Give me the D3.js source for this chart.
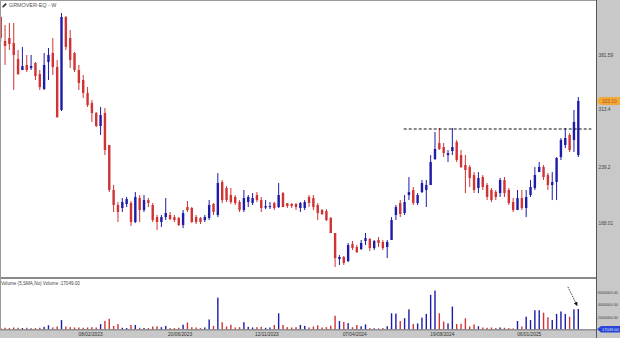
<!DOCTYPE html>
<html>
<head>
<meta charset="utf-8">
<script src="https://d3js.org/d3.v7.min.js"></script>
<style>
  body { margin: 0; background: #fff; }
  svg { display: block; font-family: "Liberation Sans", Arial, sans-serif; }
</style>
</head>
<body>
<script>
const w = 620;
const h = 338;
const plotRight = 596;
const priceBottom = 277;
const volBottom = 329.3;
const upColor = "#1c1ca8";
const downColor = "#d03333";

// weekly bars, GRMOVER-EQ
const open = [429.9, 399.4, 403.2, 396.8, 376.5, 362.5, 368.9, 365.1, 371.4, 357.4,
  338.4, 372.7, 384.1, 366.3, 311.7, 429.9, 403.2, 384.1, 362.5, 349.8,
  333.3, 320.6, 307.8, 291.3, 307.8, 267.2, 210.0, 190.9, 187.1, 192.2,
  193.4, 169.3, 199.8, 184.5, 197.2, 190.9, 175.6, 169.3, 175.6, 178.2,
  175.6, 174.4, 165.5, 188.3, 187.1, 175.6, 174.4, 171.8, 174.4, 192.2,
  178.2, 220.1, 212.5, 203.6, 201.1, 194.7, 184.5, 194.7, 193.4, 203.6,
  197.2, 187.7, 188.3, 193.4, 188.3, 206.1, 193.4, 192.2, 192.2, 187.1,
  187.1, 201.1, 199.8, 190.9, 184.5, 183.3, 174.4, 155.3, 122.2, 124.8,
  119.7, 141.3, 137.5, 135.0, 145.1, 147.7, 136.2, 146.4, 143.9, 137.5,
  146.4, 178.2, 193.4, 180.7, 203.6, 210.0, 193.4, 207.4, 210.0, 216.3,
  249.4, 269.7, 264.6, 254.4, 259.5, 271.0, 254.4, 241.7, 239.2, 229.0,
  212.5, 226.5, 216.3, 210.0, 207.4, 206.1, 222.7, 210.0, 194.7, 184.5,
  199.8, 187.1, 203.6, 212.5, 232.8, 239.2, 229.0, 216.3, 220.1, 251.9,
  267.2, 279.9, 273.5, 254.4];
const high = [431.2, 419.7, 422.3, 422.3, 387.9, 391.8, 381.6, 381.6, 372.7, 362.5,
  384.1, 390.5, 403.2, 375.2, 435.0, 431.2, 413.4, 385.4, 368.9, 356.2,
  340.9, 324.4, 309.1, 315.5, 314.2, 267.2, 216.3, 194.7, 199.8, 201.1,
  196.0, 207.4, 203.6, 203.6, 199.8, 193.4, 178.2, 178.2, 199.8, 182.0,
  178.2, 175.6, 184.5, 196.0, 188.3, 178.2, 175.6, 178.2, 197.2, 193.4,
  231.6, 222.7, 215.0, 212.5, 203.6, 197.2, 210.0, 203.6, 206.1, 207.4,
  201.1, 197.2, 194.7, 194.7, 218.9, 207.4, 193.4, 193.4, 193.4, 194.7,
  197.2, 203.6, 203.6, 193.4, 185.8, 185.8, 175.6, 155.3, 127.3, 126.1,
  142.6, 145.1, 140.0, 146.4, 155.3, 148.9, 146.4, 150.2, 146.4, 146.4,
  175.6, 190.9, 197.2, 203.6, 226.5, 213.8, 206.1, 222.7, 222.7, 254.4,
  283.7, 288.8, 269.7, 260.8, 288.8, 273.5, 260.8, 254.4, 241.7, 232.8,
  232.8, 229.0, 218.9, 212.5, 210.0, 225.2, 226.5, 212.5, 199.8, 210.0,
  210.0, 210.0, 222.7, 239.2, 245.5, 241.7, 231.6, 232.8, 251.9, 276.1,
  288.8, 282.4, 311.7, 328.2];
const low = [398.1, 368.9, 387.9, 337.1, 356.2, 362.5, 360.0, 362.5, 349.8, 337.1,
  337.1, 349.8, 356.2, 301.5, 310.4, 387.9, 365.1, 360.0, 337.1, 326.9,
  315.5, 296.4, 290.0, 279.9, 254.4, 207.4, 182.0, 169.3, 182.0, 188.3,
  164.2, 168.0, 169.3, 182.0, 188.3, 169.3, 159.1, 162.9, 171.8, 171.8,
  169.3, 164.2, 161.6, 182.0, 168.0, 166.7, 166.7, 169.3, 171.8, 178.2,
  175.6, 193.4, 194.7, 192.2, 190.9, 182.0, 182.0, 188.3, 190.9, 194.7,
  182.0, 185.8, 185.8, 184.5, 187.1, 188.3, 187.1, 187.1, 184.5, 182.0,
  184.5, 188.3, 184.5, 171.8, 178.2, 170.5, 155.3, 112.1, 114.6, 114.6,
  118.4, 133.7, 129.9, 133.7, 140.0, 132.4, 133.7, 137.5, 133.7, 123.5,
  146.4, 171.8, 175.6, 178.2, 197.2, 190.9, 190.9, 206.1, 188.3, 216.3,
  248.1, 260.8, 251.9, 245.5, 254.4, 245.5, 237.9, 206.1, 213.8, 206.1,
  206.1, 210.0, 197.2, 194.7, 197.2, 201.1, 201.1, 190.9, 182.0, 184.5,
  184.5, 175.6, 201.1, 210.0, 232.8, 222.7, 210.0, 197.2, 197.2, 248.1,
  263.3, 258.3, 258.3, 251.9];
const close = [403.2, 393.0, 395.6, 381.6, 357.4, 367.6, 362.5, 367.6, 354.9, 340.9,
  368.9, 381.6, 366.3, 302.8, 429.9, 391.8, 375.2, 362.5, 346.0, 333.3,
  318.0, 307.8, 291.3, 305.3, 260.8, 210.0, 190.9, 182.0, 194.7, 198.5,
  169.3, 201.1, 184.5, 197.2, 193.4, 171.8, 169.3, 175.6, 180.7, 173.1,
  171.8, 165.5, 180.7, 184.5, 169.3, 169.3, 169.3, 175.6, 190.9, 182.0,
  218.9, 197.2, 197.2, 194.7, 193.4, 184.5, 199.8, 201.1, 199.8, 197.2,
  187.1, 189.6, 189.6, 187.1, 203.6, 188.3, 189.6, 189.6, 188.3, 193.4,
  194.7, 193.4, 188.3, 180.7, 179.4, 171.8, 155.3, 123.5, 124.8, 117.2,
  140.0, 136.2, 131.1, 142.6, 148.9, 136.2, 145.1, 142.6, 136.2, 143.9,
  171.8, 188.3, 179.4, 194.7, 207.4, 193.4, 203.6, 218.9, 216.3, 245.5,
  262.1, 262.1, 257.0, 257.0, 264.6, 248.1, 239.2, 235.4, 225.2, 210.0,
  225.2, 213.8, 201.1, 197.2, 201.1, 222.7, 206.1, 193.4, 184.5, 199.8,
  187.1, 201.1, 213.8, 229.0, 239.2, 226.5, 216.3, 220.1, 250.6, 273.5,
  276.1, 260.8, 296.4, 323.1];
// volume in millions of shares
const volumeMn = [0.2, 0.25, 0.2, 0.3, 0.25, 0.2, 0.25, 0.15, 0.2, 0.25,
  0.4, 0.65, 0.3, 0.45, 1.5, 0.45, 0.35, 0.3, 0.3, 0.25,
  0.3, 0.35, 0.3, 0.85, 1.35, 1.7, 0.55, 0.85, 0.25, 0.2,
  0.7, 0.7, 0.25, 0.2, 0.2, 0.45, 0.5, 0.35, 0.55, 0.2,
  0.2, 0.25, 0.75, 1.1, 0.35, 0.3, 0.2, 0.3, 1.6, 0.55,
  5.15, 1.15, 0.45, 0.75, 0.3, 0.35, 1.15, 0.4, 0.3, 0.35,
  0.4, 0.25, 0.3, 0.7, 2.6, 0.7, 0.35, 0.3, 0.35, 0.7,
  0.55, 0.3, 0.45, 0.65, 0.3, 0.35, 0.6, 2.2, 1.35, 1.2,
  1.0, 0.35, 0.7, 0.5, 0.8, 0.2, 0.15, 0.15, 0.2, 0.5,
  2.6, 2.55, 1.35, 1.8, 3.25, 0.85, 0.95, 1.9, 2.5, 5.6,
  6.3, 2.6, 1.25, 0.95, 3.7, 0.85, 0.9, 1.8, 0.45, 0.8,
  0.5, 0.3, 0.25, 0.3, 0.2, 0.3, 0.25, 0.2, 0.15, 1.35,
  0.45, 2.05, 1.5, 3.1, 3.1, 2.7, 1.95, 1.5, 2.5, 2.9,
  2.5, 2.05, 3.25, 3.3];

const priceTicks = [381.59, 313.4, 239.2, 168.01];
const lastPrice = 323.10;
const volumeTicks = [2000000, 4000000, 6000000];
const lastVolume = 17049;
const dateLabels = ["08/02/2023", "20/06/2023", "12/11/2023", "07/04/2024", "19/08/2024", "06/01/2025"];
const dateBars = [20.7, 41.3, 61.3, 81.5, 101.7, 121.7];
const resistance = { price: 287.5, fromBar: 92.8, toBar: 136 };
const arrowFrom = { bar: 130.6, vol: 6900000 };
const arrowTo = { bar: 132.7, vol: 3900000 };

const bars = open.map((o, i) => ({
  i: i, o: o, h: high[i], l: low[i], c: close[i], v: volumeMn[i] * 1e6
}));

const xScale = d3.scaleLinear().domain([0, bars.length - 1]).range([0.7, 578.3]);
const yScale = d3.scaleLinear().domain([99.4, 451.5]).range([priceBottom, 0]);
const vScale = d3.scaleLinear().domain([0, 6000000]).range([volBottom, 292.4]);

const svg = d3.select("body").append("svg")
  .attr("width", w)
  .attr("height", h);

svg.append("rect").attr("width", w).attr("height", h).attr("fill", "#fff");

const colorOf = d => d.c >= d.o ? upColor : downColor;

// candles
const candles = svg.append("g").selectAll("g")
  .data(bars)
  .enter()
  .append("g");

candles.append("line")
  .attr("x1", d => xScale(d.i))
  .attr("x2", d => xScale(d.i))
  .attr("y1", d => yScale(d.h))
  .attr("y2", d => yScale(d.l))
  .attr("stroke", colorOf)
  .attr("stroke-width", 1);

candles.append("rect")
  .attr("x", d => xScale(d.i) - 1.2)
  .attr("width", 2.4)
  .attr("y", d => yScale(Math.max(d.o, d.c)))
  .attr("height", d => Math.max(1, Math.abs(yScale(d.o) - yScale(d.c))))
  .attr("fill", colorOf);

// resistance line
svg.append("line")
  .attr("x1", xScale(resistance.fromBar))
  .attr("x2", xScale(resistance.toBar))
  .attr("y1", yScale(resistance.price))
  .attr("y2", yScale(resistance.price))
  .attr("stroke", "#111")
  .attr("stroke-width", 1.2)
  .attr("stroke-dasharray", "3,2");

// panel separators
svg.append("rect")
  .attr("x", 0).attr("y", priceBottom)
  .attr("width", plotRight).attr("height", 2)
  .attr("fill", "#8a8a8a");

svg.append("text")
  .attr("x", 1).attr("y", 285)
  .attr("font-size", 4.6)
  .attr("fill", "#444")
  .text("Volume (5,SMA,No) Volume :17049.00");

// volume bars
svg.append("g").selectAll("rect")
  .data(bars)
  .enter()
  .append("rect")
  .attr("x", d => xScale(d.i) - 0.7)
  .attr("width", 1.4)
  .attr("y", d => vScale(d.v))
  .attr("height", d => volBottom - vScale(d.v))
  .attr("fill", colorOf);

// arrow annotation
svg.append("defs").append("marker")
  .attr("id", "head")
  .attr("viewBox", "0 0 10 10")
  .attr("refX", 8).attr("refY", 5)
  .attr("markerWidth", 5).attr("markerHeight", 5)
  .attr("orient", "auto")
  .append("path")
  .attr("d", "M0,0 L10,5 L0,10 z")
  .attr("fill", "#111");

svg.append("line")
  .attr("x1", xScale(arrowFrom.bar)).attr("y1", vScale(arrowFrom.vol))
  .attr("x2", xScale(arrowTo.bar)).attr("y2", vScale(arrowTo.vol))
  .attr("stroke", "#111")
  .attr("stroke-width", 0.8)
  .attr("stroke-dasharray", "1.5,1")
  .attr("marker-end", "url(#head)");

// date strip
svg.append("rect")
  .attr("x", 0).attr("y", volBottom + 0.5)
  .attr("width", w).attr("height", h - volBottom)
  .attr("fill", "#c8c8c8");
svg.append("line")
  .attr("x1", 0).attr("x2", w)
  .attr("y1", volBottom + 0.5).attr("y2", volBottom + 0.5)
  .attr("stroke", "#6a6a6a");

svg.append("g").selectAll("text")
  .data(dateLabels)
  .enter()
  .append("text")
  .attr("x", (d, i) => xScale(dateBars[i]))
  .attr("y", 335.5)
  .attr("text-anchor", "middle")
  .attr("font-size", 4.8)
  .attr("fill", "#333")
  .text(d => d);

// right axis panel
svg.append("rect")
  .attr("x", plotRight).attr("y", 0)
  .attr("width", w - plotRight).attr("height", h)
  .attr("fill", "#c8c8c8");
svg.append("line")
  .attr("x1", plotRight + 0.5).attr("x2", plotRight + 0.5)
  .attr("y1", 0).attr("y2", h)
  .attr("stroke", "#555");

const priceAxis = d3.axisRight(yScale)
  .tickValues(priceTicks)
  .tickSize(0)
  .tickPadding(1.5)
  .tickFormat(d => String(d));
const pa = svg.append("g")
  .attr("transform", `translate(${plotRight + 1}, 0)`)
  .call(priceAxis);
pa.select(".domain").remove();
pa.selectAll("text").attr("font-size", 4.8).attr("fill", "#444")
  .attr("font-family", "Liberation Sans, Arial, sans-serif");

const volAxis = d3.axisRight(vScale)
  .tickValues(volumeTicks)
  .tickSize(0)
  .tickPadding(0.8)
  .tickFormat(d3.format(".2f"));
const va = svg.append("g")
  .attr("transform", `translate(${plotRight + 1}, 0)`)
  .call(volAxis);
va.select(".domain").remove();
va.selectAll("text").attr("font-size", 3.8).attr("fill", "#444")
  .attr("font-family", "Liberation Sans, Arial, sans-serif");

// last price badge
const lp = yScale(lastPrice);
svg.append("rect")
  .attr("x", plotRight + 1.5).attr("y", lp - 4)
  .attr("width", 30).attr("height", 8)
  .attr("rx", 4)
  .attr("fill", "#f2a73b");
svg.append("text")
  .attr("x", plotRight + 6).attr("y", lp)
  .attr("dy", "0.35em")
  .attr("font-size", 4.8)
  .attr("fill", "#a85a10")
  .text(lastPrice.toFixed(2));

// last volume badge
const lv = vScale(lastVolume);
svg.append("path")
  .attr("d", `M${plotRight + 1},${lv} L${plotRight + 5},${lv - 3.3} L${w},${lv - 3.3} L${w},${lv + 3.3} L${plotRight + 5},${lv + 3.3} Z`)
  .attr("fill", "#2a45d6");
svg.append("text")
  .attr("x", plotRight + 6).attr("y", lv)
  .attr("dy", "0.35em")
  .attr("font-size", 4)
  .attr("fill", "#dfe6ff")
  .text(lastVolume.toFixed(2));

// frame
svg.append("line")
  .attr("x1", 0.5).attr("x2", 0.5).attr("y1", 0).attr("y2", volBottom)
  .attr("stroke", "#9a9a9a");
svg.append("line")
  .attr("x1", 0).attr("x2", plotRight).attr("y1", 0.5).attr("y2", 0.5)
  .attr("stroke", "#9a9a9a");

// title
svg.append("path")
  .attr("d", "M2.2,7.6 L2.6,6 L5.6,3 L6.8,4.2 L3.8,7.2 Z")
  .attr("fill", "#333");
svg.append("text")
  .attr("x", 9).attr("y", 7)
  .attr("font-size", 5.4)
  .attr("fill", "#555")
  .text("GRMOVER-EQ - W");
</script>
</body>
</html>
